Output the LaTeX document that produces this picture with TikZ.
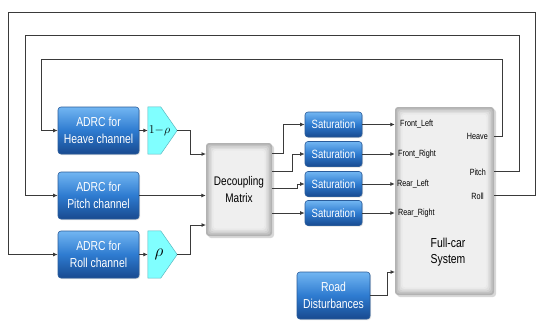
\documentclass[tikz,border=0pt]{standalone}
\usepackage{fontspec}
\setmainfont[FakeStretch=0.8]{Liberation Sans}
\usetikzlibrary{arrows.meta,shadows,backgrounds}
\definecolor{bluetop}{HTML}{72B6F2}
\definecolor{bluemid}{HTML}{2E7BD0}
\definecolor{bluebot}{HTML}{184A90}
\definecolor{blueedge}{HTML}{2A5C9A}
\definecolor{gaincyan}{HTML}{80FFFF}
\definecolor{gainedge}{HTML}{5AB8C0}
\definecolor{lin}{HTML}{3A3A3A}
\definecolor{grayin}{HTML}{EFEFEF}
\tikzset{
  bluebox/.style={rounded corners=3pt, draw=blueedge, line width=0.6pt,
    top color=bluetop, bottom color=bluebot, middle color=bluemid,
    text=white, font=\fontsize{13}{16.5}\selectfont, align=center, inner sep=0pt,
    drop shadow={opacity=0.25,shadow xshift=1pt,shadow yshift=-1pt}},
  graybox/.style={rounded corners=3pt, fill=gray!60, inner sep=0pt, align=center,
    font=\fontsize{12.5}{16.5}\selectfont,
    drop shadow={opacity=0.3,shadow xshift=2pt,shadow yshift=-2pt},
    path picture={
      \foreach \i/\c in {1.5/gray!48,3/gray!36,4.5/gray!26,6/gray!17,7.5/grayin}{
        \fill[\c,rounded corners=3pt] ([shift={(\i pt,\i pt)}]path picture bounding box.south west)
          rectangle ([shift={(-\i pt,-\i pt)}]path picture bounding box.north east);}
    }},
  satbox/.style={bluebox, font=\fontsize{12}{14}\selectfont, minimum width=57pt, minimum height=25pt},
  gainbox/.style={inner sep=0pt, minimum width=29pt, minimum height=47pt},
  gainshape/.style={fill=gaincyan, draw=gainedge, line width=0.5pt},
  portlbl/.style={font=\fontsize{9}{10}\selectfont, inner sep=0pt},
  bigtxt/.style={font=\fontsize{13}{16.5}\selectfont, align=center, inner sep=0pt},
  conn/.style={draw=lin, line width=0.85pt},
  arr/.style={conn, -{Latex[length=4.5pt,width=4pt]}},
}
\begin{document}
\begin{tikzpicture}[x=1pt,y=-1pt]
\useasboundingbox (0,0) rectangle (543,325);
\begin{pgfonlayer}{background}
\fill[white] (0,0) rectangle (543,325);
\end{pgfonlayer}

% ADRC blocks
\node[bluebox, minimum width=81pt, minimum height=47pt] (ah) at (98.5,130.5) {ADRC for\\Heave channel};
\node[bluebox, minimum width=81pt, minimum height=47pt] (ap) at (98.5,195.5) {ADRC for\\Pitch channel};
\node[bluebox, minimum width=81pt, minimum height=47pt] (ar) at (98.5,254.5) {ADRC for\\Roll channel};

% gains
\node[gainbox] (g1) at (162.5,130.5) {};
\node[gainbox] (g3) at (162.5,254.5) {};
\begin{pgfonlayer}{background}
\draw[gainshape] (g1.north west) -- ([xshift=-16.5pt]g1.north east) -- (g1.east)
  -- ([xshift=-16.5pt]g1.south east) -- (g1.south west) -- cycle;
\draw[gainshape] (g3.north west) -- ([xshift=-16.5pt]g3.north east) -- (g3.east)
  -- ([xshift=-16.5pt]g3.south east) -- (g3.south west) -- cycle;
\end{pgfonlayer}
\node[font=\fontsize{12.5}{13}\selectfont, inner sep=0pt] (g1l) at (159.5,130.5) {$1{-}\rho$};
\node[font=\fontsize{17}{17}\selectfont, inner sep=0pt] (g3l) at (159,254.5) {$\rho$};

% decoupling
\node[graybox, minimum width=66pt, minimum height=93pt] (dm) at (239,189.5) {Decoupling\\Matrix};

% saturations
\node[satbox] (s1) at (333.5,124.5) {Saturation};
\node[satbox] (s2) at (333.5,154) {Saturation};
\node[satbox] (s3) at (333.5,184) {Saturation};
\node[satbox] (s4) at (333.5,213) {Saturation};

% full-car
\node[graybox, minimum width=99pt, minimum height=188pt] (fc) at (444.5,201) {};
\node[bigtxt] (fct) at (448,252) {Full-car\\System};
\node[portlbl, anchor=west] (lfl) at (400,124.5) {Front\_Left};
\node[portlbl, anchor=west] (lfr) at (398,154) {Front\_Right};
\node[portlbl, anchor=west] (lrl) at (397,184) {Rear\_Left};
\node[portlbl, anchor=west] (lrr) at (398,213) {Rear\_Right};
\node[portlbl, anchor=east] (lhv) at (488,136) {Heave};
\node[portlbl, anchor=east] (lpt) at (486,172) {Pitch};
\node[portlbl, anchor=east] (lrlo) at (484,196) {Roll};

% road
\node[bluebox, minimum width=73pt, minimum height=47pt] (road) at (333.5,295.5) {Road\\Disturbances};

% port coordinates
\coordinate (dmI1) at (206,154);
\coordinate (dmI3) at (206,225);
\coordinate (dmO1) at (272,153);
\coordinate (dmO2) at (272,171);
\coordinate (dmO3) at (272,188);
\coordinate (dmO4) at (272,213);
\coordinate (hvOut) at (494,136);
\coordinate (ptOut) at (494,171);
\coordinate (rlOut) at (494,195);
\coordinate (fcRd) at (395,272);

% forward connectors
\draw[arr] (ah.east) -- (g1.west);
\draw[arr] (ar.east) -- (g3.west);
\draw[arr] (g1.east) -- ++(13,0) |- (dmI1);
\draw[arr] (ap.east) -- (ap.east -| dm.west);
\draw[arr] (g3.east) -- ++(13,0) |- (dmI3);
\draw[arr] (dmO1) -- ++(11,0) |- (s1.west);
\draw[arr] (dmO2) -- ++(20,0) |- (s2.west);
\draw[arr] (dmO3) -- ++(25,0) |- (s3.west);
\draw[arr] (dmO4) -- (s4.west);
\draw[arr] (s1.east) -- (s1.east -| fc.west);
\draw[arr] (s2.east) -- (s2.east -| fc.west);
\draw[arr] (s3.east) -- (s3.east -| fc.west);
\draw[arr] (s4.east) -- (s4.east -| fc.west);
\draw[arr] (road.east) -- ++(17,0) |- (fcRd);

% feedback loops
\draw[arr] (hvOut) -- ++(8.5,0) |- (41,59) |- (ah.west);
\draw[arr] (ptOut) -- ++(25,0) |- (25,35) |- (ap.west);
\draw[arr] (rlOut) -- ++(41.5,0) |- (8,12) |- (ar.west);
\end{tikzpicture}
\end{document}
